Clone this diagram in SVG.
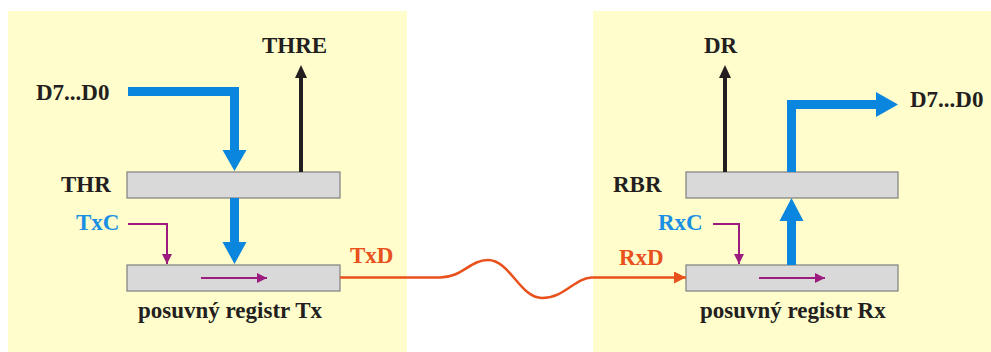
<svg xmlns="http://www.w3.org/2000/svg" width="991" height="352" viewBox="0 0 991 352">
  <defs>
    <style>
      .panel { fill: #FFFDCC; }
      .reg { fill: #D9D9D9; stroke: #7F7F7F; stroke-width: 1.2; }
      .lbl { font-family: "Liberation Serif", "Times New Roman", serif; font-weight: bold; font-size: 23px; fill: #231F20; }
      .blue-t { fill: #1A8FE3; }
      .red-t { fill: #E8501C; }
      .bus { fill: none; stroke: #0B86DE; stroke-width: 9; stroke-linejoin: miter; }
      .bus-head { fill: #0B86DE; }
      .flag { fill: none; stroke: #231F20; stroke-width: 4; }
      .flag-head { fill: #231F20; }
      .clk { fill: none; stroke: #9B1B7E; stroke-width: 2; }
      .serial { fill: none; stroke: #E8501C; stroke-width: 2.5; }
    </style>
    <marker id="mk-clk" viewBox="0 0 10 10" refX="10" refY="5" markerWidth="10" markerHeight="10" markerUnits="userSpaceOnUse" orient="auto">
      <polygon points="0,0 10,5 0,10" fill="#9B1B7E"/>
    </marker>
    <marker id="mk-serial" viewBox="0 0 12 12" refX="12" refY="6" markerWidth="12" markerHeight="12" markerUnits="userSpaceOnUse" orient="auto">
      <polygon points="0,0 12,6 0,12" fill="#E8501C"/>
    </marker>
  </defs>

  <rect width="991" height="352" fill="#FFFFFF"/>

  <!-- transmitter side -->
  <g id="tx-panel">
    <rect class="panel" x="8" y="11" width="399" height="341"/>
  </g>
  <!-- receiver side -->
  <g id="rx-panel">
    <rect class="panel" x="593" y="11" width="398" height="341"/>
  </g>

  <g id="thr">
    <rect class="reg" x="127" y="172" width="213" height="26"/>
    <text class="lbl" x="61" y="192">THR</text>
  </g>
  <g id="tx-shift">
    <rect class="reg" x="127" y="265" width="213" height="26"/>
    <text class="lbl" x="138" y="318">posuvný registr Tx</text>
  </g>
  <g id="rbr">
    <rect class="reg" x="686" y="172" width="212" height="26"/>
    <text class="lbl" x="613" y="192">RBR</text>
  </g>
  <g id="rx-shift">
    <rect class="reg" x="686" y="265" width="212" height="26"/>
    <text class="lbl" x="700" y="318">posuvný registr Rx</text>
  </g>

  <g id="labels">
    <text class="lbl" x="36" y="100">D7...D0</text>
    <text class="lbl" x="262" y="53">THRE</text>
    <text class="lbl blue-t" x="76" y="230">TxC</text>
    <text class="lbl red-t" x="350" y="263">TxD</text>
    <text class="lbl" x="704" y="53">DR</text>
    <text class="lbl" x="910" y="107">D7...D0</text>
    <text class="lbl blue-t" x="658" y="230">RxC</text>
    <text class="lbl red-t" x="619" y="265">RxD</text>
  </g>

  <g id="connectors">
    <!-- parallel data buses -->
    <path class="bus" d="M128,91.5 H234.5 V151"/>
    <polygon class="bus-head" points="222.5,150 246.5,150 234.5,171"/>
    <path class="bus" d="M234.5,198 V243"/>
    <polygon class="bus-head" points="222.5,242 246.5,242 234.5,264"/>
    <path class="bus" d="M791.5,265 V220"/>
    <polygon class="bus-head" points="779.5,221 803.5,221 791.5,198"/>
    <path class="bus" d="M791.5,172 V104.5 H877"/>
    <polygon class="bus-head" points="876,92 876,117 898,104.5"/>

    <!-- status flags -->
    <path class="flag" d="M301,172 V76"/>
    <polygon class="flag-head" points="295,78 307,78 301,65"/>
    <path class="flag" d="M725,172 V76"/>
    <polygon class="flag-head" points="719,78 731,78 725,65"/>

    <!-- clocks and shift direction -->
    <path class="clk" d="M128,224 H167 V264" marker-end="url(#mk-clk)"/>
    <path class="clk" d="M201,278 H267" marker-end="url(#mk-clk)"/>
    <path class="clk" d="M713,224 H739 V264" marker-end="url(#mk-clk)"/>
    <path class="clk" d="M759,278 H825" marker-end="url(#mk-clk)"/>

    <!-- serial line -->
    <path class="serial" d="M340,277.5 H440 C462,277.5 470,260 488,260 C510,260 520,298 542,298 C565,298 575,277.5 592,277.5 H686" marker-end="url(#mk-serial)"/>
  </g>
</svg>
